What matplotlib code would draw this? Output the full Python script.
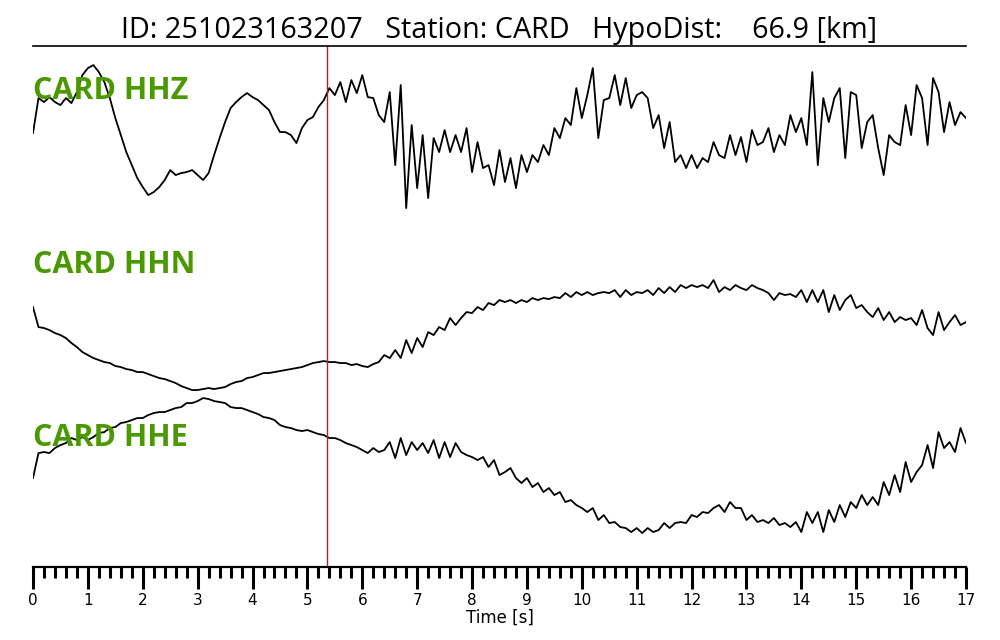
import numpy as np
import matplotlib
matplotlib.use("Agg")
import matplotlib.pyplot as plt
from matplotlib.ticker import MultipleLocator

time = np.linspace(0, 17, 171)

hhz = [133, 98, 102, 97, 102, 105, 98, 103, 92, 75,
       68, 65, 72, 82, 98, 118, 135, 152, 165, 178,
       187, 195, 192, 187, 180, 170, 175, 173, 172, 170,
       175, 180, 173, 155, 138, 122, 108, 102, 97, 93,
       97, 100, 105, 110, 122, 132, 132, 135, 143, 128,
       120, 117, 107, 100, 88, 95, 82, 102, 80, 93,
       75, 97, 98, 115, 122, 92, 165, 85, 208, 125,
       188, 135, 198, 138, 152, 130, 152, 135, 152, 128,
       172, 142, 168, 165, 185, 150, 182, 158, 188, 155,
       172, 155, 162, 145, 155, 128, 138, 118, 125, 88,
       118, 95, 68, 138, 100, 98, 75, 105, 78, 108,
       95, 92, 98, 128, 115, 148, 122, 162, 155, 168,
       155, 168, 158, 162, 142, 155, 158, 135, 155, 137,
       162, 130, 145, 142, 128, 152, 135, 145, 115, 132,
       118, 145, 72, 165, 98, 122, 98, 88, 158, 92,
       95, 148, 122, 115, 148, 175, 135, 142, 145, 105,
       135, 85, 98, 145, 78, 92, 132, 102, 125, 112,
       118]

hhn = [307, 327, 328, 330, 333, 335, 338, 343, 347, 352,
       355, 358, 360, 362, 363, 366, 367, 369, 370, 372,
       372, 374, 376, 378, 379, 381, 383, 386, 388, 390,
       390, 389, 388, 389, 388, 387, 384, 382, 381, 378,
       377, 375, 373, 373, 372, 371, 370, 369, 368, 367,
       365, 363, 362, 361, 362, 362, 363, 363, 365, 364,
       366, 367, 364, 362, 355, 358, 350, 358, 340, 353,
       338, 347, 332, 335, 327, 330, 318, 325, 318, 312,
       313, 307, 310, 303, 305, 300, 302, 300, 303, 300,
       302, 298, 300, 298, 299, 297, 298, 293, 297, 292,
       295, 292, 295, 293, 292, 293, 290, 297, 290, 295,
       292, 293, 290, 295, 288, 293, 287, 292, 285, 288,
       285, 287, 285, 288, 280, 292, 287, 290, 285, 288,
       290, 285, 288, 290, 293, 300, 293, 295, 294, 297,
       290, 302, 290, 302, 290, 312, 295, 310, 300, 295,
       308, 305, 312, 317, 308, 320, 312, 322, 317, 320,
       318, 325, 310, 328, 335, 312, 330, 322, 315, 325,
       322]

hhe = [478, 453, 452, 453, 448, 445, 443, 438, 440, 437,
       440, 437, 433, 432, 428, 427, 423, 422, 420, 418,
       418, 415, 413, 412, 412, 410, 408, 407, 403, 403,
       401, 398, 399, 401, 402, 403, 407, 408, 408, 410,
       412, 414, 417, 418, 420, 425, 427, 428, 430, 431,
       430, 432, 434, 435, 438, 438, 440, 443, 445, 447,
       450, 453, 448, 452, 450, 442, 458, 438, 455, 442,
       450, 443, 453, 440, 458, 442, 457, 443, 452, 455,
       457, 460, 457, 467, 460, 475, 472, 468, 478, 483,
       478, 487, 483, 492, 488, 495, 492, 502, 500, 505,
       508, 512, 508, 520, 515, 523, 522, 527, 528, 532,
       528, 533, 528, 532, 530, 523, 528, 523, 522, 523,
       515, 517, 512, 513, 508, 505, 512, 502, 508, 508,
       520, 515, 522, 520, 523, 518, 525, 523, 527, 522,
       532, 512, 523, 512, 532, 510, 522, 505, 517, 502,
       508, 495, 505, 497, 505, 482, 495, 475, 492, 462,
       482, 472, 465, 445, 468, 432, 448, 442, 452, 428,
       443]

channels = ["CARD HHZ", "CARD HHN", "CARD HHE"]
label_pos = [91, 265, 438]
pick_time = 5.36
title = "ID: 251023163207   Station: CARD   HypoDist:    66.9 [km]"


def main():
    fig = plt.figure(figsize=(10, 6.4), dpi=100)
    ax = fig.add_axes([0.033, 0.114, 0.933, 0.814])

    for tr in (hhz, hhn, hhe):
        ax.plot(time, tr, color="black", lw=1.3)

    for name, yl in zip(channels, label_pos):
        ax.text(0, yl, name, color="#4a9900", fontsize=22, fontweight="bold",
                family="Open Sans", va="center", ha="left")

    ax.axvline(pick_time, color="red", lw=1.0)

    ax.set_xlim(0, 17)
    ax.set_ylim(567, 46)
    ax.set_yticks([])
    ax.set_xticks(np.arange(0, 18, 1))
    ax.xaxis.set_minor_locator(MultipleLocator(0.2))
    ax.tick_params(which="major", length=16, width=2.2, labelsize=11, pad=3)
    ax.tick_params(which="minor", length=8, width=2.2)
    for s in ["left", "right"]:
        ax.spines[s].set_visible(False)
    ax.spines["bottom"].set_linewidth(1.6)
    ax.spines["top"].set_linewidth(1.2)

    ax.set_xlabel("Time [s]", fontsize=12, labelpad=0)
    ax.set_title(title, fontsize=20.7, family="Open Sans", pad=6)

    fig.savefig("out.png", dpi=100)


main()
